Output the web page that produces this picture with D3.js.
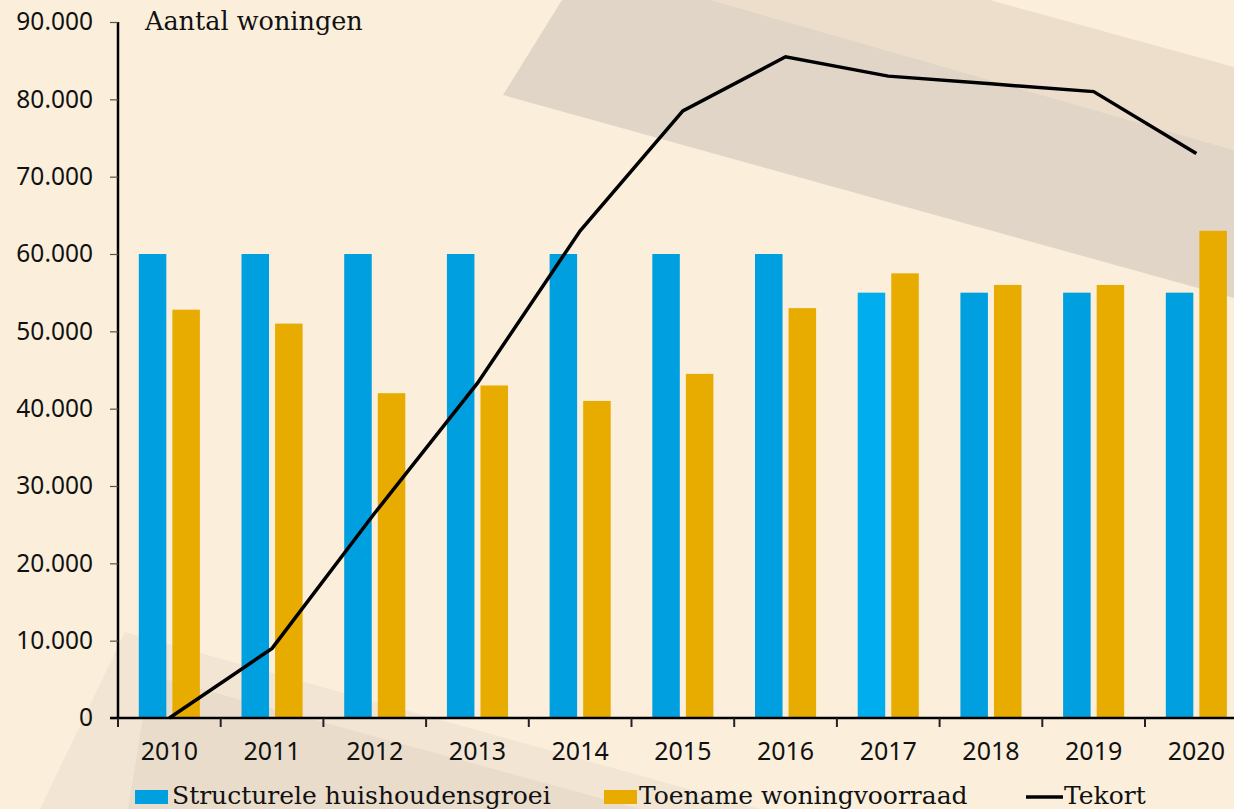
<!DOCTYPE html>
<html>
<head>
<meta charset="utf-8">
<script src="https://cdn.jsdelivr.net/npm/d3@7"></script>
<style>
  body { margin: 0; background: #fbefdc; }
  svg { display: block; }
</style>
</head>
<body>
<div id="chart"></div>
<script>
// data
var years = ['2010', '2011', '2012', '2013', '2014', '2015', '2016', '2017', '2018', '2019', '2020'];
var huishoudensgroei = [60000, 60000, 60000, 60000, 60000, 60000, 60000, 55000, 55000, 55000, 55000];
var woningvoorraad = [52800, 51000, 42000, 43000, 41000, 44500, 53000, 57500, 56000, 56000, 63000];
var tekort = [0, 9000, 26500, 43300, 63000, 78500, 85500, 83000, 82000, 81000, 73000];
var yTicks = [0, 10000, 20000, 30000, 40000, 50000, 60000, 70000, 80000, 90000];
var legendLabels = ['Structurele huishoudensgroei', 'Toename woningvoorraad', 'Tekort'];

var chartW = 1234, chartH = 809;
var marginLeft = 118, axisBottom = 718, axisTop = 22;
var step = 102.7;

var blue = '#009fdf', blueLight = '#00aeef', orange = '#e8ab00';
var sans = "'Noto Sans', sans-serif";
var serif = "'DejaVu Serif', serif";

var svg = d3.select('#chart').append('svg')
  .attr('width', chartW)
  .attr('height', chartH);

// background with the faint diagonal shapes
svg.append('rect').attr('width', chartW).attr('height', chartH).attr('fill', '#fbefdc');
var shapes = [
  { pts: [[711, 0], [990, 0], [1234, 67], [1234, 150]], fill: '#ecdecb' },
  { pts: [[503, 95], [562, 0], [711, 0], [1234, 150], [1234, 298]], fill: '#e0d5c6' },
  { pts: [[125, 632], [40, 809], [760, 809]], fill: '#f2e5d3' },
  { pts: [[150, 675], [128, 809], [640, 809]], fill: '#eadccb' }
];
svg.selectAll('polygon.bg').data(shapes).enter().append('polygon')
  .attr('class', 'bg')
  .attr('points', function(d) { return d.pts.map(function(p) { return p.join(','); }).join(' '); })
  .attr('fill', function(d) { return d.fill; });

var x = d3.scaleBand()
  .domain(years)
  .range([marginLeft, marginLeft + step * years.length]);

var sub = d3.scaleBand()
  .domain(['h', 'w'])
  .range([0, x.bandwidth()])
  .paddingInner(0.18)
  .paddingOuter(0.62);

var y = d3.scaleLinear()
  .domain([0, 90000])
  .range([axisBottom, axisTop]);

// bars
var groups = svg.selectAll('.year').data(years).enter().append('g')
  .attr('class', 'year')
  .attr('transform', function(d) { return 'translate(' + x(d) + ',0)'; });

groups.append('rect')
  .attr('x', sub('h'))
  .attr('width', sub.bandwidth())
  .attr('y', function(d, i) { return y(huishoudensgroei[i]); })
  .attr('height', function(d, i) { return axisBottom - y(huishoudensgroei[i]); })
  .attr('fill', function(d) { return d === '2017' ? blueLight : blue; });

groups.append('rect')
  .attr('x', sub('w'))
  .attr('width', sub.bandwidth())
  .attr('y', function(d, i) { return y(woningvoorraad[i]); })
  .attr('height', function(d, i) { return axisBottom - y(woningvoorraad[i]); })
  .attr('fill', orange);

// tekort line
var line = d3.line()
  .x(function(d, i) { return x(years[i]) + x.bandwidth() / 2; })
  .y(function(d) { return y(d); });

svg.append('path')
  .datum(tekort)
  .attr('d', line)
  .attr('fill', 'none')
  .attr('stroke', '#000')
  .attr('stroke-width', 3.5)
  .attr('stroke-linejoin', 'miter');

// y axis
var fmt = function(d) { return d3.format(',')(d).replace(/,/g, '.'); };
var yAxis = svg.append('g')
  .attr('transform', 'translate(' + marginLeft + ',0)')
  .call(d3.axisLeft(y).tickValues(yTicks).tickFormat(fmt).tickSize(8).tickPadding(17));
yAxis.select('.domain').attr('stroke', '#000').attr('stroke-width', 2.5).attr('d', 'M0,' + axisTop + 'V' + axisBottom);
yAxis.selectAll('.tick line').attr('stroke', '#555').attr('stroke-width', 1.2);
yAxis.selectAll('.tick text')
  .style('font-family', sans).style('font-size', '24.5px').attr('fill', '#111');

// x axis
var xAxis = svg.append('g')
  .attr('transform', 'translate(0,' + axisBottom + ')')
  .call(d3.axisBottom(x).tickSize(0).tickPadding(24));
xAxis.select('.domain').attr('stroke', '#000').attr('stroke-width', 2.5)
  .attr('d', 'M' + (marginLeft - 8) + ',0H' + chartW);
xAxis.selectAll('.tick text')
  .style('font-family', sans).style('font-size', '25px').attr('fill', '#111');
xAxis.selectAll('.sep').data(years).enter().append('line')
  .attr('class', 'sep')
  .attr('x1', function(d) { return x(d); })
  .attr('x2', function(d) { return x(d); })
  .attr('y1', 0).attr('y2', 9)
  .attr('stroke', '#222').attr('stroke-width', 2);

// title
svg.append('text')
  .attr('x', 145).attr('y', 30)
  .style('font-family', serif).style('font-size', '25.5px')
  .attr('fill', '#111')
  .text('Aantal woningen');

// legend
var legend = svg.append('g');
var lx = [135, 604, 1026];
legend.append('rect').attr('x', lx[0]).attr('y', 790).attr('width', 33).attr('height', 14).attr('fill', blue);
legend.append('rect').attr('x', lx[1]).attr('y', 790).attr('width', 33).attr('height', 14).attr('fill', orange);
legend.append('line').attr('x1', lx[2]).attr('x2', lx[2] + 37).attr('y1', 797).attr('y2', 797)
  .attr('stroke', '#000').attr('stroke-width', 3.5);
legend.selectAll('text.leg').data(legendLabels).enter().append('text')
  .attr('class', 'leg')
  .attr('x', function(d, i) { return [172, 639, 1064][i]; })
  .attr('y', 804)
  .style('font-family', serif).style('font-size', '25px')
  .attr('fill', '#111')
  .text(function(d) { return d; });
</script>
</body>
</html>
